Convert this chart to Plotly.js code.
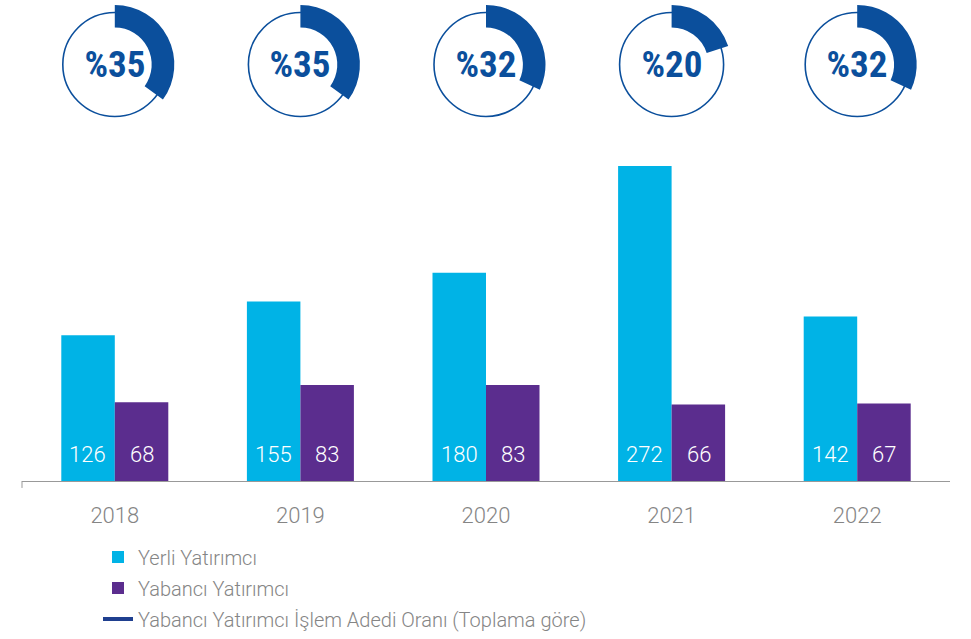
<!DOCTYPE html>
<html>
<head>
<meta charset="utf-8">
<script src="https://cdn.plot.ly/plotly-3.0.1.min.js"></script>
<style>html,body{margin:0;padding:0;background:#fff}#chart{width:971px;height:639px}#err{position:absolute;top:0;left:0;color:red;font:12px monospace}
#chart .annotation[data-index="0"] text,
#chart .annotation[data-index="1"] text,
#chart .annotation[data-index="2"] text,
#chart .annotation[data-index="3"] text,
#chart .annotation[data-index="4"] text{font-stretch:condensed}</style>
</head>
<body>
<div id="chart"></div>
<div id="err"></div>
<script>
var years = ['2018', '2019', '2020', '2021', '2022'];
var yerli = [126, 155, 180, 272, 142];
var yabanci = [68, 83, 83, 66, 67];
var oran = [35, 35, 32, 20, 32];
var seriesNames = ['Yerli Yatırımcı', 'Yabancı Yatırımcı', 'Yabancı Yatırımcı İşlem Adedi Oranı (Toplama göre)'];

var W = 971, H = 639;
var mL = 22, mR = 21, mT = 0, mB = 154;
var plotW = W - mL - mR, plotH = H - mT - mB;
var cyan = '#00b3e6', purple = '#5b2d8e', navy = '#0b4f9c';
var gaugeCY = 65, gaugeR = 60, ringR = 52;
var gy = (plotH - gaugeCY) / plotH;
var labelFont = 'Roboto, "Liberation Sans", sans-serif';
var pctFont = 'Roboto, "DejaVu Sans", sans-serif';

var traces = [
  {type: 'bar', x: years, y: yerli, name: seriesNames[0], marker: {color: cyan}, hoverinfo: 'skip', legendgroup: 'a'},
  {type: 'bar', x: years, y: yabanci, name: seriesNames[1], marker: {color: purple}, hoverinfo: 'skip', legendgroup: 'b'},
  {type: 'scatter', mode: 'lines', x: [null], y: [null], name: seriesNames[2], line: {color: '#1f3f8f', width: 4}, legendgroup: 'c'}
];

var annotations = [];
var shapes = [];
var i;
for (i = 0; i < years.length; i++) {
  var cx = mL + plotW * (i + 0.5) / years.length;
  var dx0 = (cx - gaugeR - mL) / plotW, dx1 = (cx + gaugeR - mL) / plotW;
  traces.push({
    type: 'pie', values: [oran[i], 100 - oran[i]], labels: ['a', 'b'],
    sort: false, direction: 'clockwise', rotation: 0, hole: 0.62,
    marker: {colors: [navy, 'rgba(0,0,0,0)'], line: {width: 0}},
    textinfo: 'none', hoverinfo: 'skip', showlegend: false,
    domain: {x: [dx0, dx1], y: [gy - gaugeR / plotH, gy + gaugeR / plotH]}
  });
  shapes.push({
    type: 'circle', xref: 'x', yref: 'paper', xsizemode: 'pixel', ysizemode: 'pixel',
    xanchor: i, yanchor: gy, x0: -ringR, x1: ringR, y0: -ringR, y1: ringR,
    line: {color: navy, width: 1.6}, fillcolor: 'rgba(0,0,0,0)', layer: 'below'
  });
  annotations.push({
    x: i, xref: 'x', y: gy, yref: 'paper', text: '<b>%' + oran[i] + '</b>', showarrow: false,
    yanchor: 'middle', xanchor: 'center',
    font: {family: pctFont, size: 37, color: navy}
  });
}
for (i = 0; i < years.length; i++) {
  annotations.push({
    x: i, xref: 'x', y: 22.5, yref: 'y', xshift: -27, text: String(yerli[i]), showarrow: false,
    font: {family: labelFont, size: 22, color: '#ffffff', weight: 300}
  });
  annotations.push({
    x: i, xref: 'x', y: 22.5, yref: 'y', xshift: 27, text: String(yabanci[i]), showarrow: false,
    font: {family: labelFont, size: 22, color: '#ffffff', weight: 300}
  });
}
shapes.push({type: 'line', xref: 'paper', yref: 'paper', x0: 0, x1: 0, y0: 0, y1: -7 / plotH, line: {color: '#999999', width: 1}});

var layout = {
  width: W, height: H,
  margin: {l: mL, r: mR, t: mT, b: mB, pad: 0},
  paper_bgcolor: '#ffffff', plot_bgcolor: 'rgba(0,0,0,0)',
  barmode: 'group', bargap: 0.4235, bargroupgap: 0,
  showlegend: true,
  xaxis: {
    type: 'category', range: [-0.5, 4.5], showline: true, linecolor: '#999999', linewidth: 1,
    ticks: 'outside', ticklen: 15, tickcolor: 'rgba(0,0,0,0)', showgrid: false, zeroline: false,
    tickfont: {family: labelFont, size: 22, color: '#858585', weight: 300},
    fixedrange: true
  },
  yaxis: {
    domain: [0, (plotH - 150) / plotH], range: [0, 287], visible: false, showgrid: false, zeroline: false, fixedrange: true
  },
  legend: {
    x: (98 - mL) / plotW, xanchor: 'left', y: (plotH - 542) / plotH, yanchor: 'top',
    orientation: 'v', traceorder: 'grouped', tracegroupgap: 2,
    font: {family: labelFont, size: 20, color: '#858585', weight: 300},
    bgcolor: 'rgba(0,0,0,0)'
  },
  shapes: shapes,
  annotations: annotations
};

try {
  Plotly.newPlot('chart', traces, layout, {displayModeBar: false, staticPlot: true}).catch(function (e) {
    document.getElementById('err').textContent = 'ERR ' + e;
  });
} catch (e) {
  document.getElementById('err').textContent = 'ERR ' + e;
}
</script>
</body>
</html>
